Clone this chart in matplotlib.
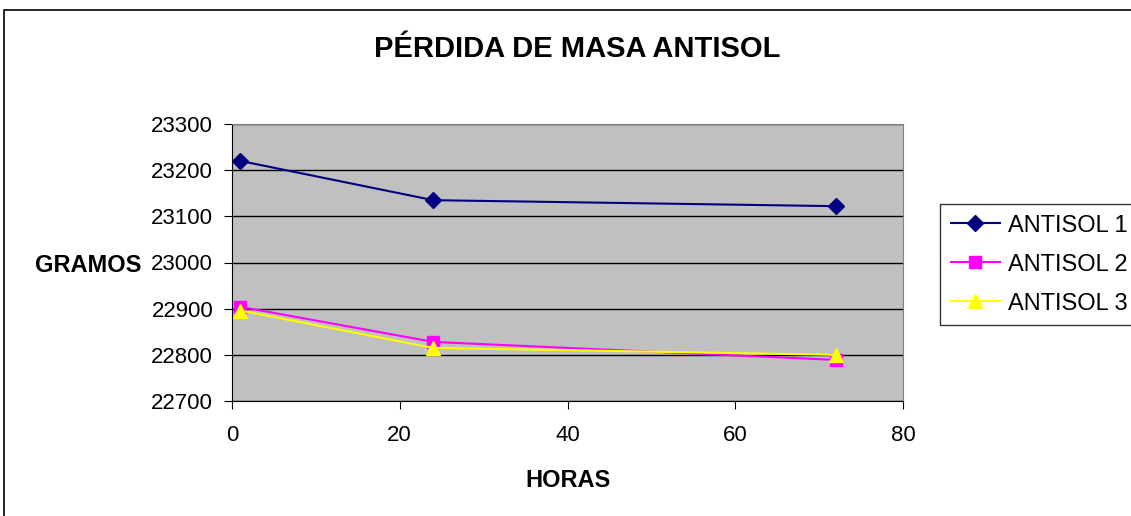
import matplotlib.pyplot as plt
from matplotlib.patches import Rectangle

plt.rcParams['font.family'] = ['Liberation Sans', 'DejaVu Sans']

# datos
horas = [1, 24, 72]
antisol_1 = [23220, 23135, 23122]
antisol_2 = [22904, 22828, 22789]
antisol_3 = [22896, 22815, 22800]
x_ticks = [0, 20, 40, 60, 80]
y_ticks = [22700, 22800, 22900, 23000, 23100, 23200, 23300]

W, H = 1131, 516
fig = plt.figure(figsize=(W/100, H/100), dpi=100)
ax = fig.add_axes([232/W, 1 - 401/H, (903-232)/W, (401-124)/H])
ax.set_facecolor('#c0c0c0')

# borde exterior
fig.patches.append(Rectangle((4/W, -0.1), 1.2, 1 - 10/H + 0.1, transform=fig.transFigure,
                             fill=False, edgecolor='black', linewidth=1.2))

ax.plot(horas, antisol_1, color='#000080', marker='D', markersize=8, linewidth=1.5, label='ANTISOL 1')
ax.plot(horas, antisol_2, color='#ff00ff', marker='s', markersize=8, linewidth=1.5, label='ANTISOL 2')
ax.plot(horas, antisol_3, color='#ffff00', marker='^', markersize=10, linewidth=1.5, label='ANTISOL 3')

ax.set_xlim(0, 80)
ax.set_ylim(22700, 23300)
ax.set_xticks(x_ticks)
ax.set_yticks(y_ticks)
ax.yaxis.grid(True, color='black', linewidth=1)
ax.set_axisbelow(True)
ax.tick_params(direction='out', length=5.5, labelsize=16, colors='black')
ax.tick_params(axis='x', pad=12)
ax.tick_params(axis='y', pad=8)
for s in ['top', 'right']:
    ax.spines[s].set_color('#808080')
for s in ['left', 'bottom']:
    ax.spines[s].set_color('black')

fig.text(577/W, 1 - 57/H, 'PÉRDIDA DE MASA ANTISOL', ha='center', va='baseline',
         fontsize=21, fontweight='bold')
fig.text(88/W, 1 - 272/H, 'GRAMOS', ha='center', va='baseline', fontsize=17, fontweight='bold')
fig.text(568/W, 1 - 487/H, 'HORAS', ha='center', va='baseline', fontsize=17, fontweight='bold')

leg = fig.legend(loc='upper left', bbox_to_anchor=(940/W, 1 - 204/H), fontsize=17,
                 frameon=True, fancybox=False, edgecolor='black', borderaxespad=0,
                 handlelength=2.1, labelspacing=0.72, handletextpad=0.35, borderpad=0.45)
leg.get_frame().set_linewidth(1)

fig.savefig('out.png', dpi=100)
